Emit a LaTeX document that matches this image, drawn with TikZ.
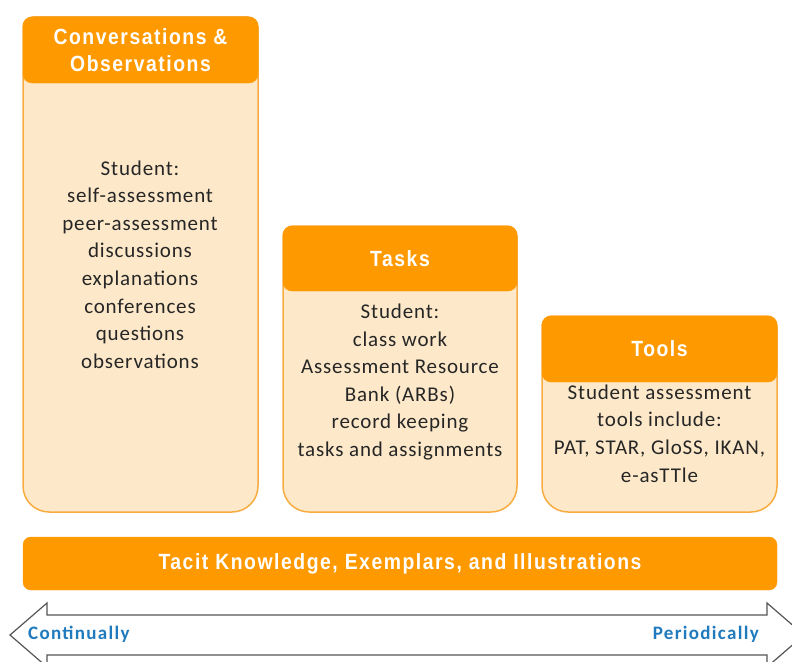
\documentclass[tikz,border=0pt]{standalone}
\usepackage{fontspec}
\setmainfont{Carlito}
\newfontfamily\headfont[LetterSpace=7,FakeStretch=0.88]{Liberation Sans}
\newfontfamily\spacedfont[LetterSpace=4]{Carlito}
\newfontfamily\labelfont[LetterSpace=7]{Carlito}
\definecolor{hdrorange}{RGB}{255,153,0}
\definecolor{bodypeach}{RGB}{253,233,201}
\definecolor{edgeorange}{RGB}{248,172,64}
\definecolor{labelblue}{RGB}{31,122,190}
\definecolor{arrowgray}{RGB}{85,85,85}
\tikzset{
  hdr/.style={fill=hdrorange, draw=hdrorange, rounded corners=9pt, text=white,
    font=\headfont\bfseries\fontsize{22}{27}\selectfont, align=center, inner sep=0pt},
  bodybox/.style={fill=bodypeach, draw=edgeorange, line width=1.5pt},
  bodytext/.style={font=\spacedfont\fontsize{21}{27.6}\selectfont, text=black!85, align=center, inner sep=0pt},
  endlabel/.style={font=\labelfont\bfseries\fontsize{19}{20}\selectfont, text=labelblue, inner sep=0pt}
}
\begin{document}
\begin{tikzpicture}[x=1pt,y=-1pt]
\useasboundingbox (0,0) rectangle (792,661);
% column bodies
\draw[bodybox] (23,300) [rounded corners=10pt] -- (23,17) -- (258,17) -- (258,300) [rounded corners=26pt] -- (258,512) -- (23,512) -- cycle;
\draw[bodybox] (283,400) [rounded corners=10pt] -- (283,226) -- (517,226) -- (517,400) [rounded corners=26pt] -- (517,512) -- (283,512) -- cycle;
\draw[bodybox] (542,450) [rounded corners=10pt] -- (542,316) -- (777,316) -- (777,450) [rounded corners=26pt] -- (777,512) -- (542,512) -- cycle;
% headers
\node[hdr, minimum width=235pt, minimum height=66pt] (convHead) at (140.5,50) {Conversations \&\\Observations};
\node[hdr, minimum width=234pt, minimum height=65pt] (taskHead) at (400,258.5) {Tasks};
\node[hdr, minimum width=235pt, minimum height=66pt] (toolHead) at (659.5,349) {Tools};
% column texts
\node[bodytext] (convText) at (140,264.5) {Student:\\self-assessment\\peer-assessment\\discussions\\explanations\\conferences\\questions\\observations};
\node[bodytext] (taskText) at (400,382) {Student:\\class work\\Assessment Resource\\Bank (ARBs)\\record keeping\\tasks and assignments};
\node[bodytext] (toolText) at (659.5,433.5) {Student assessment\\tools include:\\PAT, STAR, GloSS, IKAN,\\e-asTTle};
% base bar
\node[hdr, minimum width=754pt, minimum height=53pt, rounded corners=8pt] (tacitBar) at (400,563.5) {\raisebox{-1.5pt}{Tacit Knowledge, Exemplars, and Illustrations}};
% time arrow
\draw[fill=white, draw=arrowgray, line width=1.2pt] (10,635) -- (47,603) -- (47,615) -- (767,615) -- (767,603) -- (804,635) -- (767,667) -- (767,655) -- (47,655) -- (47,667) -- cycle;
\node[endlabel, anchor=west] (contLabel) at (28,634) {Continually};
\node[endlabel, anchor=east] (periLabel) at (759,634) {Periodically};
\end{tikzpicture}
\end{document}
